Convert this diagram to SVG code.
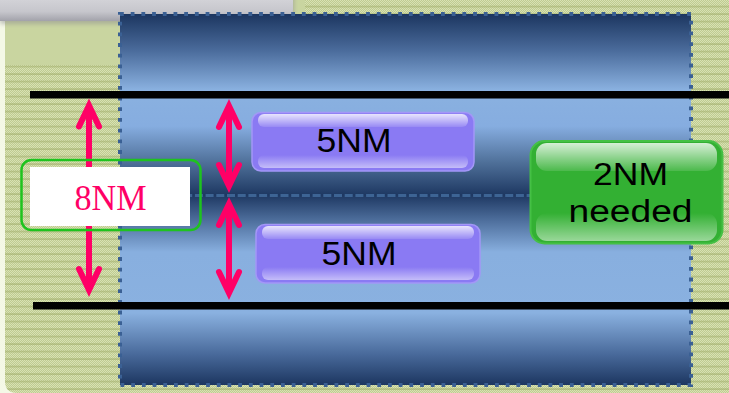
<svg xmlns="http://www.w3.org/2000/svg" width="729" height="393" viewBox="0 0 729 393">
  <defs>
    <style>
      .pink { stroke: #ff0066; stroke-width: 6; fill: none; }
      .bar { fill: #000; }
      .lbl { font-family: "Liberation Sans", Arial, sans-serif; fill: #000; text-anchor: middle; }
      .serif { font-family: "Liberation Serif", "Times New Roman", serif; fill: #ff0066; text-anchor: middle; }
      .dots { fill: none; stroke: #3a6094; stroke-width: 4; stroke-dasharray: 3.8 6.9; }
    </style>
    <!-- woven paper texture -->
    <pattern id="weave" width="2" height="2" patternUnits="userSpaceOnUse">
      <rect width="2" height="2" fill="#bfcb91"/>
      <rect width="1" height="1" fill="#d8e2b3"/>
      <rect x="1" y="1" width="1" height="1" fill="#d8e2b3"/>
    </pattern>
    <pattern id="rules" width="8" height="7.5" patternUnits="userSpaceOnUse">
      <rect y="6" width="8" height="1.2" fill="#a1ae6c" opacity="0.85"/>
    </pattern>
    <linearGradient id="tab" x1="0" y1="0" x2="0" y2="1">
      <stop offset="0" stop-color="#dcdce0"/>
      <stop offset="0.7" stop-color="#c6c6cc"/>
      <stop offset="1" stop-color="#a2a2aa"/>
    </linearGradient>
    <linearGradient id="tubeTop" x1="0" y1="0" x2="0" y2="1">
      <stop offset="0" stop-color="#1c3660"/>
      <stop offset="0.2" stop-color="#4a6b9b"/>
      <stop offset="0.42" stop-color="#8ab1e0"/>
      <stop offset="0.62" stop-color="#86ade0"/>
      <stop offset="0.82" stop-color="#4f7099"/>
      <stop offset="1" stop-color="#1e3862"/>
    </linearGradient>
    <linearGradient id="tubeBot" x1="0" y1="0" x2="0" y2="1">
      <stop offset="0" stop-color="#1e3862"/>
      <stop offset="0.14" stop-color="#50719f"/>
      <stop offset="0.3" stop-color="#88afdf"/>
      <stop offset="0.62" stop-color="#8ab1e0"/>
      <stop offset="0.84" stop-color="#48699a"/>
      <stop offset="1" stop-color="#1c3660"/>
    </linearGradient>
    <linearGradient id="glossTop" x1="0" y1="0" x2="0" y2="1">
      <stop offset="0" stop-color="#ffffff" stop-opacity="0.8"/>
      <stop offset="1" stop-color="#ffffff" stop-opacity="0.12"/>
    </linearGradient>
    <linearGradient id="glossBot" x1="0" y1="0" x2="0" y2="1">
      <stop offset="0" stop-color="#ffffff" stop-opacity="0"/>
      <stop offset="1" stop-color="#ffffff" stop-opacity="0.5"/>
    </linearGradient>
    <filter id="soft" x="-5%" y="-20%" width="110%" height="160%">
      <feGaussianBlur stdDeviation="2"/>
    </filter>
    <marker id="head" viewBox="-28 -16 38 32" markerWidth="38" markerHeight="32" refX="0" refY="0" orient="auto-start-reverse" markerUnits="userSpaceOnUse">
      <path d="M-21,-10 L0,0 L-21,10" fill="none" stroke="#ff0066" stroke-width="6" stroke-linecap="round" stroke-linejoin="miter"/>
    </marker>
  </defs>

  <!-- page background -->
  <rect width="729" height="393" fill="#f4f8e6"/>
  <path d="M5,0 H729 V393 H17 Q5,393 5,381 Z" fill="url(#weave)"/>
  <path d="M5,0 H729 V393 H17 Q5,393 5,381 Z" fill="url(#rules)"/>
  <rect x="5" y="0" width="300" height="65" fill="#c9d5a0"/>

  <!-- title tab -->
  <path d="M0,-10 H294 V10 Q294,24 280,24 H0 Z" fill="#8a8a90" opacity="0.5" filter="url(#soft)"/>
  <path d="M0,-10 H293 V9 Q293,21 281,21 H0 Z" fill="url(#tab)"/>

  <!-- layered band -->
  <g id="band">
    <rect x="120" y="14" width="571" height="181" fill="url(#tubeTop)"/>
    <rect x="120" y="195" width="571" height="190" fill="url(#tubeBot)"/>
    <rect x="120" y="14" width="571" height="371" class="dots"/>
    <line x1="120" y1="195.5" x2="691" y2="195.5" stroke="#3d6494" stroke-width="3" stroke-dasharray="8 2.7"/>
  </g>

  <!-- boundary lines -->
  <rect class="bar" x="30" y="91" width="699" height="7.5"/>
  <rect class="bar" x="33" y="302" width="696" height="7.5"/>

  <!-- dimension arrows -->
  <g id="connectors">
    <line class="pink" x1="89" y1="105.5" x2="89" y2="290" marker-start="url(#head)" marker-end="url(#head)"/>
    <line class="pink" x1="229" y1="106" x2="229" y2="186" marker-start="url(#head)" marker-end="url(#head)"/>
    <line class="pink" x1="229" y1="204" x2="229" y2="293" marker-start="url(#head)" marker-end="url(#head)"/>
  </g>

  <!-- 8NM label -->
  <g id="node-8nm">
    <rect x="21.5" y="160" width="179" height="70" rx="10" fill="none" stroke="#1ec31e" stroke-width="2.5"/>
    <rect x="30" y="167" width="160" height="59" fill="#ffffff"/>
    <text class="serif" x="110.5" y="210" font-size="36" textLength="72" lengthAdjust="spacingAndGlyphs">8NM</text>
  </g>

  <!-- upper 5NM -->
  <g id="node-5nm-top">
    <rect x="252" y="112.5" width="222" height="58.5" rx="9" fill="#8a7af3" stroke="#a397f7" stroke-width="1.5"/>
    <rect x="258" y="114" width="210" height="13" rx="6" fill="url(#glossTop)"/>
    <rect x="258" y="155" width="210" height="13" rx="6" fill="url(#glossBot)"/>
    <text class="lbl" x="354" y="152" font-size="33" textLength="75" lengthAdjust="spacingAndGlyphs">5NM</text>
  </g>

  <!-- lower 5NM -->
  <g id="node-5nm-bottom">
    <rect x="256" y="224.5" width="224" height="58.5" rx="9" fill="#8a7af3" stroke="#a397f7" stroke-width="1.5"/>
    <rect x="262" y="226" width="212" height="13" rx="6" fill="url(#glossTop)"/>
    <rect x="262" y="267" width="212" height="13" rx="6" fill="url(#glossBot)"/>
    <text class="lbl" x="359" y="264.5" font-size="33" textLength="75" lengthAdjust="spacingAndGlyphs">5NM</text>
  </g>

  <!-- 2NM needed -->
  <g id="node-2nm">
    <rect x="530.5" y="141" width="192" height="102.5" rx="14" fill="#33b033" stroke="#45c045" stroke-width="2"/>
    <rect x="536" y="143" width="181" height="28" rx="11" fill="url(#glossTop)"/>
    <rect x="536" y="213" width="181" height="28" rx="11" fill="url(#glossBot)"/>
    <text class="lbl" x="630.5" y="184.5" font-size="31" textLength="75" lengthAdjust="spacingAndGlyphs">2NM</text>
    <text class="lbl" x="630.5" y="222" font-size="31" textLength="124" lengthAdjust="spacingAndGlyphs">needed</text>
  </g>
</svg>
